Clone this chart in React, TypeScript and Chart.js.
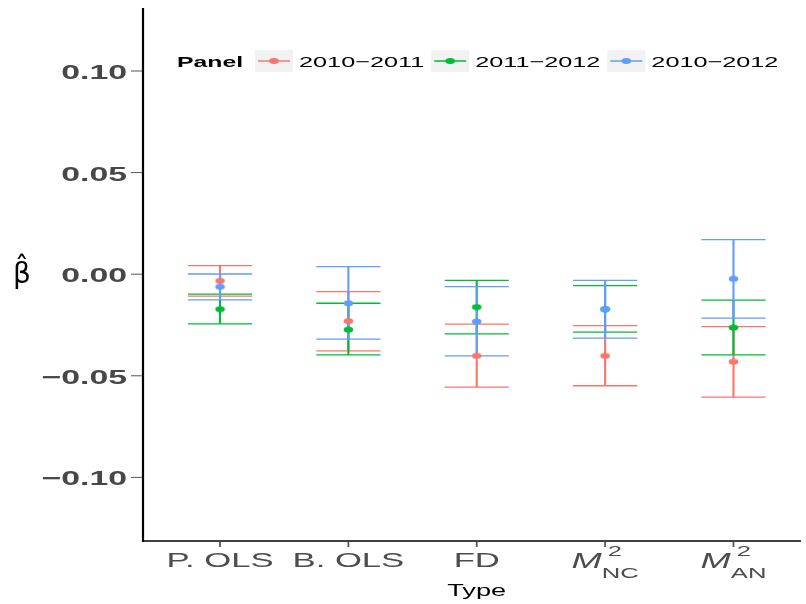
import React, { useEffect, useRef } from "react";
import { Chart, registerables } from "chart.js";

Chart.register(...registerables);

// ---- data ----
const categories = ["P. OLS", "B. OLS", "FD", "M^2[NC]", "M^2[AN]"];
const panels = ["2010−2011", "2011−2012", "2010−2012"];
const panelColors = ["#F8766D", "#00BA38", "#619CFF"];

const est_2010_2011 = [-0.0033, -0.0231, -0.0402, -0.0402, -0.0431];
const lo_2010_2011 = [-0.0108, -0.0377, -0.0556, -0.0549, -0.0605];
const hi_2010_2011 = [0.0042, -0.0086, -0.0246, -0.0253, -0.0258];

const est_2011_2012 = [-0.0172, -0.0273, -0.0162, -0.0172, -0.0263];
const lo_2011_2012 = [-0.0244, -0.0397, -0.0294, -0.0285, -0.0397];
const hi_2011_2012 = [-0.0098, -0.0143, -0.003, -0.0056, -0.0128];

const est_2010_2012 = [-0.0062, -0.0143, -0.0233, -0.0172, -0.0023];
const lo_2010_2012 = [-0.0126, -0.032, -0.0402, -0.0315, -0.0216];
const hi_2010_2012 = [0.0001, 0.0037, -0.0061, -0.003, 0.017];

const yTicks = [0.1, 0.05, 0, -0.05, -0.1];
const yTickLabels = ["0.10", "0.05", "0.00", "−0.05", "−0.10"];

const xTitle = "Type";
const yTitle = "β̂";
const legendTitle = "Panel";

// ---- styling ----
const SX = 1.65;
const FONT = "'Liberation Sans', Arial, Helvetica, sans-serif";

function drawText(
  ctx: CanvasRenderingContext2D,
  text: string,
  x: number,
  y: number,
  align: "left" | "center" | "right",
  font: string,
  color: string,
  sx: number = SX
): number {
  ctx.save();
  ctx.font = font;
  ctx.textBaseline = "alphabetic";
  ctx.textAlign = "left";
  const w = ctx.measureText(text).width * sx;
  let left = x;
  if (align === "center") left = x - w / 2;
  if (align === "right") left = x - w;
  ctx.translate(left, y);
  ctx.scale(sx, 1);
  ctx.fillStyle = color;
  ctx.fillText(text, 0, 0);
  ctx.restore();
  return w;
}

function measure(ctx: CanvasRenderingContext2D, text: string, font: string, sx: number = SX) {
  ctx.save();
  ctx.font = font;
  const w = ctx.measureText(text).width * sx;
  ctx.restore();
  return w;
}

function makeDot(color: string): HTMLCanvasElement {
  const c = document.createElement("canvas");
  c.width = 11;
  c.height = 7;
  const g = c.getContext("2d")!;
  g.fillStyle = color;
  g.beginPath();
  g.ellipse(5.5, 3.5, 4.8, 2.9, 0, 0, Math.PI * 2);
  g.fill();
  return c;
}

const overlayPlugin = {
  id: "ggOverlay",
  beforeDatasetsDraw(chart: any) {
    const ctx: CanvasRenderingContext2D = chart.ctx;
    const xs = chart.scales.x;
    const ys = chart.scales.y;
    chart.data.datasets.forEach((ds: any) => {
      ctx.save();
      ctx.strokeStyle = ds.borderColor;
      ds.data.forEach((p: any, i: number) => {
        const x = xs.getPixelForValue(p.x);
        const xl = xs.getPixelForValue(p.x - 0.25);
        const xr = xs.getPixelForValue(p.x + 0.25);
        const yl = ys.getPixelForValue(ds.lo[i]);
        const yh = ys.getPixelForValue(ds.hi[i]);
        ctx.lineWidth = 2.1;
        ctx.beginPath();
        ctx.moveTo(x, yl);
        ctx.lineTo(x, yh);
        ctx.stroke();
        ctx.lineWidth = 1.3;
        ctx.beginPath();
        ctx.moveTo(xl, yl);
        ctx.lineTo(xr, yl);
        ctx.moveTo(xl, yh);
        ctx.lineTo(xr, yh);
        ctx.stroke();
      });
      ctx.restore();
    });
  },
  afterDraw(chart: any) {
    const ctx: CanvasRenderingContext2D = chart.ctx;
    const xs = chart.scales.x;
    const ys = chart.scales.y;
    const area = chart.chartArea;
    const grey = "#4D4D4D";

    // axis lines
    ctx.save();
    ctx.strokeStyle = "#000";
    ctx.lineWidth = 2.2;
    ctx.beginPath();
    ctx.moveTo(area.left, area.top);
    ctx.lineTo(area.left, area.bottom + 1);
    ctx.stroke();
    ctx.lineWidth = 1.4;
    ctx.beginPath();
    ctx.moveTo(area.left - 1, area.bottom);
    ctx.lineTo(area.right, area.bottom);
    ctx.stroke();

    // y ticks
    ctx.strokeStyle = "#555";
    ctx.lineWidth = 1;
    yTicks.forEach((v, i) => {
      const y = ys.getPixelForValue(v);
      ctx.beginPath();
      ctx.moveTo(area.left - 12, y);
      ctx.lineTo(area.left - 1, y);
      ctx.stroke();
      drawText(ctx, yTickLabels[i], area.left - 16, y + 8, "right", `bold 20.5px ${FONT}`, "#474747");
    });

    // x ticks
    ctx.lineWidth = 1.8;
    categories.forEach((c, i) => {
      const x = xs.getPixelForValue(i + 1);
      ctx.beginPath();
      ctx.moveTo(x, area.bottom + 1);
      ctx.lineTo(x, area.bottom + 6);
      ctx.stroke();
      const m = c.match(/^(\w)\^(\w+)\[(\w+)\]$/);
      const base = area.bottom + 26;
      if (m) {
        const fM = `italic 22px ${FONT}`;
        const fS = `15.5px ${FONT}`;
        const wM = measure(ctx, m[1], fM);
        const wSup = measure(ctx, m[2], fS);
        const wSub = measure(ctx, m[3], fS);
        const total = wM + Math.max(wSup + 6, wSub);
        const left = x - total / 2;
        drawText(ctx, m[1], left, base + 1, "left", fM, grey);
        drawText(ctx, m[2], left + wM + 6, base - 11, "left", fS, grey);
        drawText(ctx, m[3], left + wM, base + 11, "left", fS, grey);
      } else {
        drawText(ctx, c, x, base, "center", `21px ${FONT}`, grey);
      }
    });

    // axis titles
    drawText(ctx, xTitle, xs.getPixelForValue(3), 596, "center", `16.5px ${FONT}`, "#000");
    drawText(ctx, yTitle, 22, (area.top + area.bottom) / 2 + 8, "center", `28px 'DejaVu Sans', sans-serif`, "#000", 1.0);

    // legend
    const ly = 61;
    const base = ly + 5.5;
    let lx = 177;
    lx += drawText(ctx, legendTitle, lx, base, "left", `bold 15px ${FONT}`, "#000");
    lx += 12;
    panels.forEach((p, i) => {
      ctx.fillStyle = "#F2F2F2";
      ctx.fillRect(lx, ly - 11, 38, 22);
      ctx.strokeStyle = panelColors[i];
      ctx.lineWidth = 1.3;
      ctx.beginPath();
      ctx.moveTo(lx + 3, ly);
      ctx.lineTo(lx + 35, ly);
      ctx.stroke();
      ctx.fillStyle = panelColors[i];
      ctx.beginPath();
      ctx.ellipse(lx + 19, ly, 4.8, 2.9, 0, 0, Math.PI * 2);
      ctx.fill();
      lx += 38 + 6;
      lx += drawText(ctx, p, lx, base, "left", `15.3px ${FONT}`, "#000");
      lx += 7;
    });
    ctx.restore();
  },
};

export default function App() {
  const ref = useRef<HTMLCanvasElement | null>(null);
  useEffect(() => {
    if (!ref.current) return;
    const series = [
      { est: est_2010_2011, lo: lo_2010_2011, hi: hi_2010_2011 },
      { est: est_2011_2012, lo: lo_2011_2012, hi: hi_2011_2012 },
      { est: est_2010_2012, lo: lo_2010_2012, hi: hi_2010_2012 },
    ];
    const chart = new Chart(ref.current, {
      type: "scatter",
      data: {
        datasets: series.map((s, k) => ({
          label: panels[k],
          data: s.est.map((v, i) => ({ x: i + 1, y: v })),
          lo: s.lo,
          hi: s.hi,
          order: series.length - 1 - k,
          borderColor: panelColors[k],
          backgroundColor: panelColors[k],
          pointStyle: makeDot(panelColors[k]),
          pointRadius: 4,
        })) as any,
      },
      options: {
        responsive: false,
        animation: false,
        layout: { padding: { left: 143, top: 8, right: 0, bottom: 63 } },
        scales: {
          x: { type: "linear", min: 0.4, max: 5.526, display: false },
          y: { min: -0.1313, max: 0.131, display: false },
        },
        plugins: { legend: { display: false }, tooltip: { enabled: false } },
      },
      plugins: [overlayPlugin],
    });
    return () => chart.destroy();
  }, []);
  return (
    <div style={{ position: "fixed", left: 0, top: 0, width: 806, height: 604, background: "#fff" }}>
      <canvas ref={ref} width={806} height={604} style={{ width: 806, height: 604 }} />
    </div>
  );
}
